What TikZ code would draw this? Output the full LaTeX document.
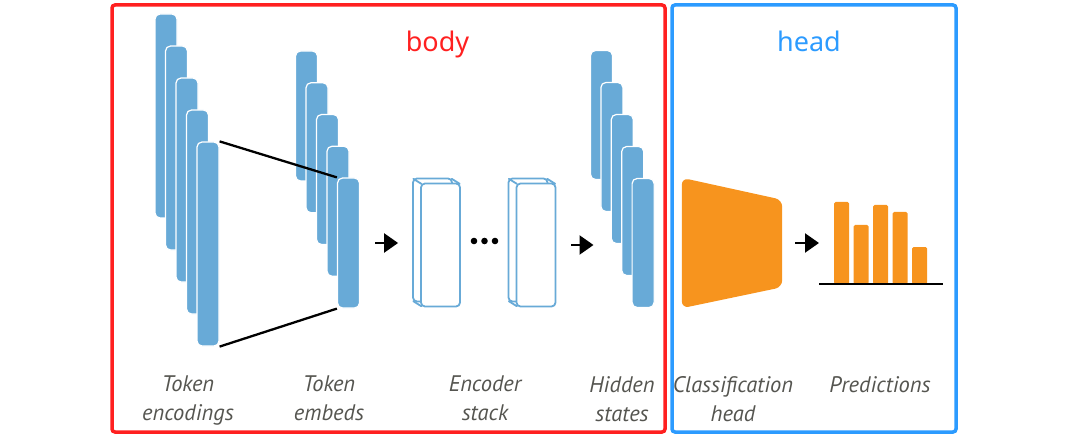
\documentclass[tikz,border=0pt]{standalone}
\usepackage{fontspec}
\setmainfont{PT Sans}
\newfontfamily\titlefont{Noto Sans}
\usetikzlibrary{arrows.meta, positioning}
\definecolor{barblue}{RGB}{104,170,215}
\definecolor{bodyred}{RGB}{255,32,32}
\definecolor{headblue}{RGB}{44,155,255}
\definecolor{headorange}{RGB}{247,148,30}
\definecolor{labelgray}{RGB}{85,85,80}

\begin{document}
\begin{tikzpicture}[
                x=1pt, y=-1pt,
                bar/.style={draw=white, line width=1.2pt, fill=barblue, rounded corners=5pt, minimum width=22pt, inner sep=0pt},
                encface/.style={draw=barblue, line width=1.8pt, fill=white, rounded corners=4pt, minimum width=39pt, minimum height=123pt, inner sep=0pt},
                encline/.style={draw=barblue, line width=1.8pt, line cap=round},
                link/.style={line width=2.3pt},
                arr/.style={-{Triangle[length=14pt, width=19pt]}, line width=2.3pt},
                frame/.style={line width=3.5pt, rounded corners=3pt},
                caption/.style={font=\itshape\fontsize{22.5}{29}\selectfont, text=labelgray, align=center, inner sep=0pt, anchor=north},
                title/.style={font=\titlefont\fontsize{27}{30}\selectfont, anchor=base}
            ]

                \useasboundingbox (0,0) rectangle (1080,441);

                % frames
                \draw[frame, bodyred] (112,5) rectangle (665,432);
                \draw[frame, headblue] (672,5) rectangle (956,432);
                \node[title, text=bodyred] (body) at (437.5,52) {body};
                \node[title, text=headblue] (head) at (809,52) {head};

                % token encodings and embeds
                \foreach \i in {0,...,4}
                    \node[bar, minimum height=204pt] (enc\i) at ({166+10.5*\i},{116+32*\i}) {};
                \foreach \i in {0,...,4}
                    \node[bar, minimum height=130pt] (emb\i) at ({306.5+10.5*\i},{116+31.75*\i}) {};

                \draw[link] (enc4.north east) -- (emb4.north west);
                \draw[link] (enc4.south east) -- (emb4.south west);

                % encoder stack
                \foreach \n/\x in {A/440.5, B/536} {
                    \node[encface] (back\n) at ({\x-8},240) {};
                    \node[encface] (stack\n) at (\x,245) {};
                    \draw[encline] ([shift={(1.2pt,-1.2pt)}]back\n.north west) -- ([shift={(1.2pt,-1.2pt)}]stack\n.north west);
                    \draw[encline] ([shift={(-1.2pt,-1.2pt)}]back\n.north east) -- ([shift={(-1.2pt,-1.2pt)}]stack\n.north east);
                    \draw[encline] ([shift={(1.2pt,1.2pt)}]back\n.south west) -- ([shift={(1.2pt,1.2pt)}]stack\n.south west);
                }
                \foreach \x in {474,484.5,495}
                    \fill (\x,241) circle (3.3pt);

                % hidden states
                \foreach \i in {0,...,4}
                    \node[bar, minimum height=129pt] (hid\i) at ({601.5+10.4*\i},{115+32*\i}) {};

                \draw[arr, shorten <=15pt, shorten >=14pt] (emb4.east) -- (emb4.east -| backA.west);
                \draw[arr, shorten <=15pt, shorten >=38pt] (stackB.east) -- (stackB.east -| hid4.west);

                % classification head
                \node[minimum width=100pt, minimum height=130pt, inner sep=0pt] (clf) at (732,243) {};
                \fill[headorange, rounded corners=7pt] (clf.north west) -- ([yshift=-22pt]clf.north east)
                    -- ([yshift=21pt]clf.south east) -- (clf.south west) -- cycle;

                % predictions
                \coordinate (axis) at (819,284);
                \foreach \h [count=\i from 0] in {82,59,79,72,37}
                    \fill[headorange, rounded corners=1.5pt] ({834+19.5*\i},284) rectangle ++(15,-\h);
                \draw[line width=1.6pt] (axis) -- ++(124,0);
                \draw[arr, shorten <=13pt] (clf.east) -- (clf.east -| axis);

                % captions
                \node[caption] (capEnc)   at (188,376) {Token\\encodings};
                \node[caption] (capEmb)   at (329,376) {Token\\embeds};
                \node[caption] (capStack) at (485,376) {Encoder\\stack};
                \node[caption] (capHid)   at (622,376) {Hidden\\states};
                \node[caption] (capClf)   at (733,376) {Classification\\head};
                \node[caption] (capPred)  at (880,376) {Predictions};

            \end{tikzpicture}
\end{document}
